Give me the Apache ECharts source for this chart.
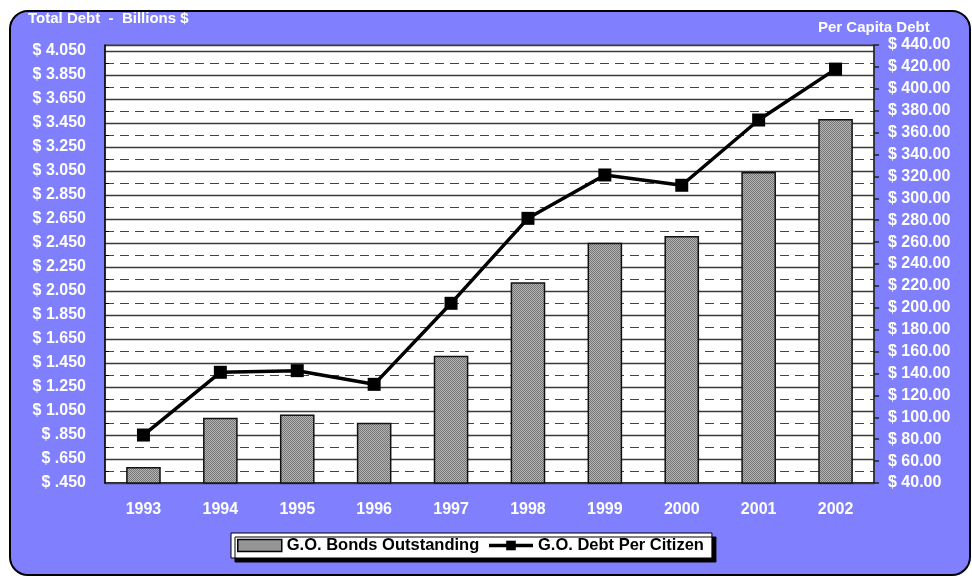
<!DOCTYPE html>
<html>
<head>
<meta charset="utf-8">
<script src="https://cdn.jsdelivr.net/npm/echarts@6/dist/echarts.min.js"></script>
<style>
  html, body { margin: 0; padding: 0; background: #ffffff; }
  #chart { width: 972px; height: 576px; }
</style>
</head>
<body>
<div id="chart"></div>
<script>
// ---- data ----
const years = ['1993', '1994', '1995', '1996', '1997', '1998', '1999', '2000', '2001', '2002'];
const bondsOutstanding = [0.583, 0.994, 1.020, 0.953, 1.511, 2.122, 2.453, 2.508, 3.042, 3.483]; // billions $
const debtPerCitizen = [83.8, 141.1, 142.6, 130.1, 204.1, 281.7, 321.3, 311.9, 371.5, 418.0]; // $ per capita
const leftAxisMin = 0.45, leftAxisMax = 4.10, leftAxisStep = 0.2;
const rightAxisMin = 40, rightAxisMax = 440, rightAxisStep = 20;

// ---- bar texture ----
function makePattern() {
  const c = document.createElement('canvas');
  c.width = 2; c.height = 2;
  const g = c.getContext('2d');
  g.fillStyle = '#b4b4b4'; g.fillRect(0, 0, 2, 2);
  g.fillStyle = '#767676';
  g.fillRect(0, 0, 1, 1); g.fillRect(1, 1, 1, 1);
  return c;
}
const pattern = { image: makePattern(), repeat: 'repeat' };

function leftFmt(v) {
  let s = v.toFixed(3);
  if (s.charAt(0) === '0') s = s.slice(1);
  return '$ ' + s;
}
function rightFmt(v) { return '$ ' + v.toFixed(2); }

const font = 'Liberation Sans, Arial, sans-serif';
const chart = echarts.init(document.getElementById('chart'), null, { renderer: 'canvas' });

chart.setOption({
  backgroundColor: '#ffffff',
  animation: false,
  graphic: [
    { type: 'rect', z: -10, shape: { x: 10, y: 11, width: 960, height: 564, r: 18 },
      style: { fill: '#8080ff', stroke: '#000', lineWidth: 2 } },
    { type: 'text', z: 10, left: 28, top: 11,
      style: { text: 'Total Debt  -  Billions $', fill: '#fff', font: 'bold 15px ' + font } },
    { type: 'text', z: 10, left: 818, top: 20,
      style: { text: 'Per Capita Debt', fill: '#fff', font: 'bold 15px ' + font } }
  ],
  grid: {
    left: 105, right: 98, top: 45, bottom: 93,
    show: true, backgroundColor: '#ffffff', borderColor: '#555', borderWidth: 1
  },
  legend: {
    left: 231, top: 533,
    backgroundColor: '#ffffff', borderColor: '#000', borderWidth: 1,
    shadowColor: '#000', shadowOffsetX: 4, shadowOffsetY: 4, shadowBlur: 0,
    padding: [4, 8, 4, 6], itemGap: 8,
    textStyle: { color: '#000', fontWeight: 'bold', fontSize: 16.5, fontFamily: font },
    data: [
      { name: 'G.O. Bonds Outstanding', icon: 'rect',
        itemStyle: { color: pattern, borderColor: '#000', borderWidth: 1.5 } },
      { name: 'G.O. Debt Per Citizen', lineStyle: { width: 3.5, color: '#000' } }
    ],
    itemWidth: 44, itemHeight: 12
  },
  xAxis: {
    type: 'category', data: years,
    axisLine: { show: true, lineStyle: { color: '#000', width: 1.5 } },
    axisTick: { show: false },
    axisLabel: { color: '#fff', fontWeight: 'bold', fontSize: 16, fontFamily: font, margin: 19 }
  },
  yAxis: [
    { // minor dashed grid (every 0.1)
      type: 'value', position: 'left', min: leftAxisMin, max: leftAxisMax, interval: leftAxisStep / 2,
      z: 0,
      axisLine: { show: false },
      axisTick: { show: true, inside: true, length: 4, lineStyle: { color: '#000' } },
      axisLabel: { show: false },
      splitLine: { show: true, lineStyle: { color: '#444', width: 1, type: [9, 6] } }
    },
    { // main left axis
      type: 'value', position: 'left', min: leftAxisMin, max: leftAxisMax, interval: leftAxisStep,
      z: 1,
      axisLine: { show: true, lineStyle: { color: '#000', width: 1.5 } },
      axisTick: { show: false },
      axisLabel: { color: '#fff', fontWeight: 'bold', fontSize: 16, fontFamily: font, margin: 19,
        showMaxLabel: false, formatter: leftFmt },
      splitLine: { show: true, lineStyle: { color: '#3a3a3a', width: 1.3, type: 'solid' } }
    },
    { // right axis
      type: 'value', position: 'right', min: rightAxisMin, max: rightAxisMax, interval: rightAxisStep,
      z: 1,
      axisLine: { show: true, lineStyle: { color: '#222', width: 1.5 } },
      axisTick: { show: true, inside: false, length: 5, lineStyle: { color: '#222', width: 1.5 } },
      axisLabel: { color: '#fff', fontWeight: 'bold', fontSize: 16, fontFamily: font, margin: 14,
        formatter: rightFmt },
      splitLine: { show: false }
    }
  ],
  series: [
    {
      name: 'G.O. Bonds Outstanding', type: 'bar', yAxisIndex: 1, data: bondsOutstanding,
      barWidth: '45%', z: 3,
      itemStyle: { color: pattern, borderColor: '#111', borderWidth: 1.5 }
    },
    {
      name: 'G.O. Debt Per Citizen', type: 'line', yAxisIndex: 2, data: debtPerCitizen, z: 4,
      symbol: 'rect', symbolSize: 13,
      lineStyle: { color: '#000', width: 3.5 },
      itemStyle: { color: '#000' }
    }
  ]
});
</script>
</body>
</html>
